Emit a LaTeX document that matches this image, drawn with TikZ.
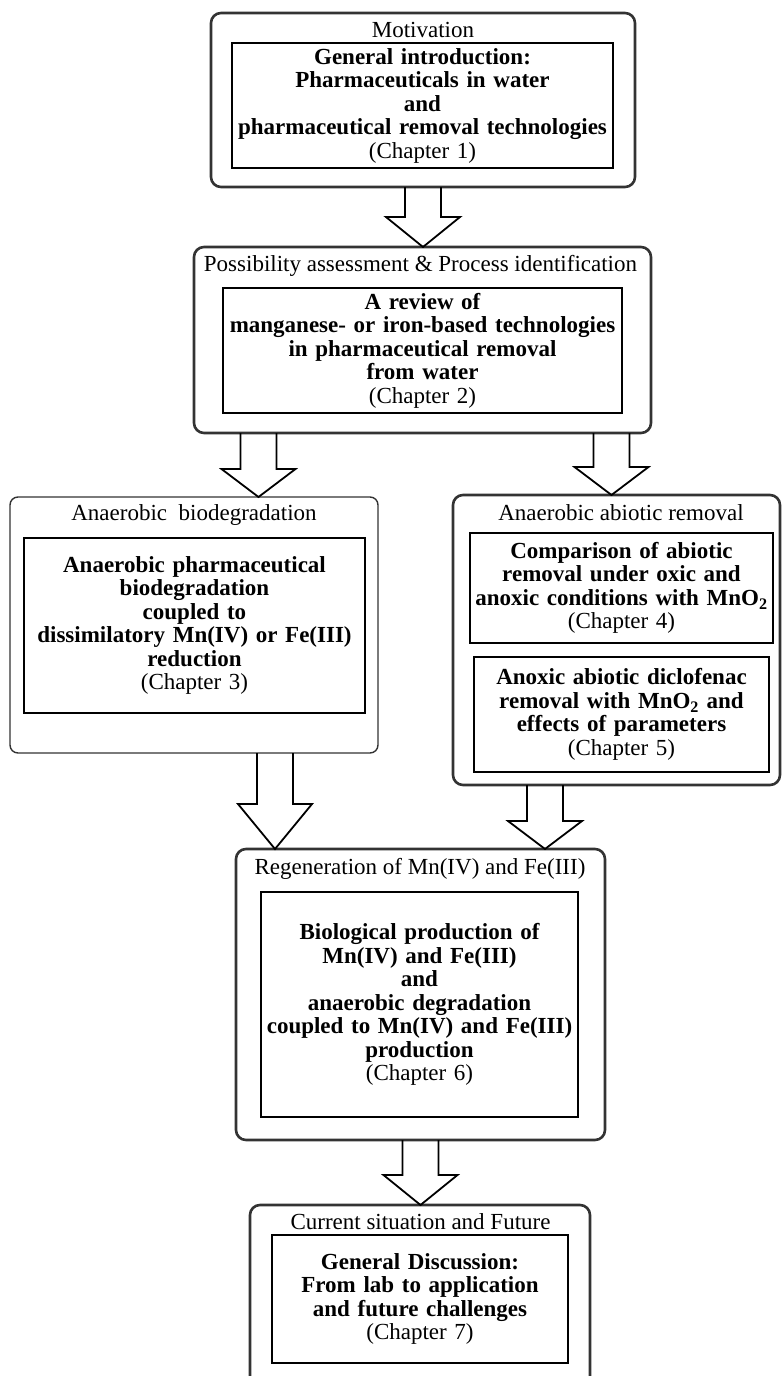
\documentclass[tikz,border=0pt]{standalone}
\usepackage{fontspec}
\setmainfont{Liberation Serif}
\usetikzlibrary{calc}

\tikzset{
  outerbox/.style={draw=black!80, line width=2.6pt, rounded corners=10pt, inner sep=0pt, outer sep=0pt},
  innerbox/.style={draw, line width=2pt, inner sep=0pt, align=center,
    font=\bfseries\fontsize{23}{23.5}\selectfont},
  headline/.style={anchor=base, inner sep=0pt, font=\fontsize{23}{23.5}\selectfont},
  arrowbody/.style={draw, line width=1.8pt, line join=miter},
}
% block arrow: start (top of shaft), end (only its y is used), head length
\newcommand{\blockarrow}[3]{%
  \draw[arrowbody] let \p1=(#1), \p2=(#2) in
    (\x1-18pt,\y1) -- (\x1-18pt,\y2+#3) -- (\x1-37pt,\y2+#3) -- (\x1,\y2)
    -- (\x1+37pt,\y2+#3) -- (\x1+18pt,\y2+#3) -- (\x1+18pt,\y1);}

\begin{document}
\begin{tikzpicture}[x=1pt,y=-1pt]
  \useasboundingbox (0,0) rectangle (782,1376);
  % frames
  \node[outerbox, minimum width=424pt, minimum height=174pt] (mot) at (423,100) {};
  \node[outerbox, minimum width=457pt, minimum height=186pt] (poss) at (422.5,340) {};
  \node[outerbox, line width=1.4pt, rounded corners=8pt, minimum width=368pt, minimum height=256pt] (bio) at (194,625) {};
  \node[outerbox, minimum width=327pt, minimum height=290pt] (abio) at (616.5,640) {};
  \node[outerbox, minimum width=369pt, minimum height=291pt] (regen) at (420.5,994.5) {};
  \node[outerbox, minimum width=340pt, minimum height=215pt] (future) at (420,1312.5) {};
  % frame titles
  \node[headline] (motT) at (423,37) {Motivation};
  \node[headline] (possT) at (420.5,271) {Possibility assessment \& Process identification};
  \node[headline] (bioT) at (194,520) {Anaerobic\ \ biodegradation};
  \node[headline] (abioT) at (621,520) {Anaerobic abiotic removal};
  \node[headline] (regenT) at (420,874) {Regeneration of Mn(IV) and Fe(III)};
  \node[headline] (futureT) at (420.5,1229) {Current situation and Future};
  % chapters
  \node[innerbox, text width=381pt, minimum height=125pt] (ch1) at (422.5,105.5)
    {General introduction:\\Pharmaceuticals in water\\and\\pharmaceutical removal technologies\\{\mdseries (Chapter 1)}};
  \node[innerbox, text width=399pt, minimum height=125pt] (ch2) at (422.5,350.5)
    {A review of\\manganese- or iron-based technologies\\in pharmaceutical removal\\from water\\{\mdseries (Chapter 2)}};
  \node[innerbox, text width=341pt, minimum height=175pt] (ch3) at (194.5,625.5)
    {Anaerobic pharmaceutical\\biodegradation\\coupled to\\dissimilatory Mn(IV) or Fe(III)\\reduction\\{\mdseries (Chapter 3)}};
  \node[innerbox, text width=303pt, minimum height=110pt] (ch4) at (621.5,588)
    {Comparison of abiotic\\removal under oxic and\\anoxic conditions with MnO\textsubscript{2}\\{\mdseries (Chapter 4)}};
  \node[innerbox, text width=295pt, minimum height=115pt] (ch5) at (621.5,714.5)
    {Anoxic abiotic diclofenac\\removal with MnO\textsubscript{2} and\\effects of parameters\\{\mdseries (Chapter 5)}};
  \node[innerbox, text width=317pt, minimum height=225pt] (ch6) at (419.5,1004.5)
    {Biological production of\\Mn(IV) and Fe(III)\\and\\anaerobic degradation\\coupled to Mn(IV) and Fe(III)\\production\\{\mdseries (Chapter 6)}};
  \node[innerbox, text width=296pt, minimum height=128pt] (ch7) at (420,1299)
    {General Discussion:\\From lab to application\\and future challenges\\{\mdseries (Chapter 7)}};
  % arrows
  \blockarrow{mot.south}{poss.north}{30pt}
  \blockarrow{$(poss.south)+(-164,0)$}{bio.north}{28pt}
  \blockarrow{$(poss.south)+(189,0)$}{abio.north}{28pt}
  \blockarrow{$(bio.south)+(81,0)$}{regen.north}{45pt}
  \blockarrow{$(abio.south)+(-71.5,0)$}{regen.north}{28pt}
  \blockarrow{regen.south}{future.north}{30pt}
\end{tikzpicture}
\end{document}
